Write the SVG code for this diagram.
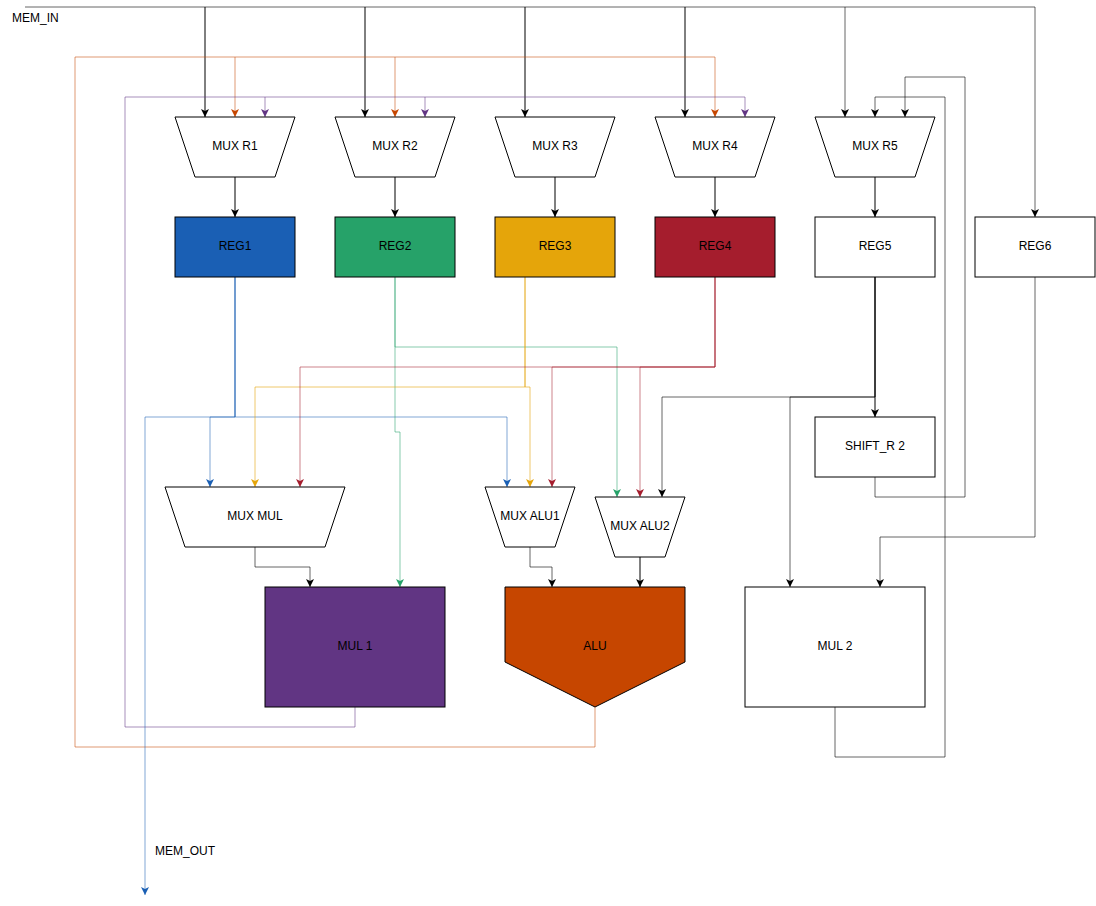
<svg xmlns="http://www.w3.org/2000/svg" width="1096" height="906" viewBox="0 0 1096 906">
<style>
text{font-family:"Liberation Sans",Arial,sans-serif;font-size:12px;fill:#000;text-anchor:middle;dominant-baseline:central}
.n{stroke:#000;stroke-width:1}
.w{fill:#fff}
.e{fill:none;stroke-width:1}
.k{stroke:#000}
.g{stroke:#000;stroke-opacity:0.6}
.bl{stroke:#1a5fb4;stroke-opacity:0.55}
.gr{stroke:#26a269;stroke-opacity:0.55}
.ye{stroke:#e5a50a;stroke-opacity:0.6}
.rd{stroke:#a51d2d;stroke-opacity:0.55}
.or{stroke:#c64600;stroke-opacity:0.55}
.pu{stroke:#613583;stroke-opacity:0.55}
</style>
<defs>
<marker id="ak" markerUnits="userSpaceOnUse" markerWidth="10" markerHeight="10" refX="8" refY="4" orient="auto" viewBox="0 0 10 8"><path d="M0,0 L8,4 L0,8 L2,4 z" fill="#000"/></marker>
<marker id="ab" markerUnits="userSpaceOnUse" markerWidth="10" markerHeight="10" refX="8" refY="4" orient="auto" viewBox="0 0 10 8"><path d="M0,0 L8,4 L0,8 L2,4 z" fill="#1a5fb4"/></marker>
<marker id="ag" markerUnits="userSpaceOnUse" markerWidth="10" markerHeight="10" refX="8" refY="4" orient="auto" viewBox="0 0 10 8"><path d="M0,0 L8,4 L0,8 L2,4 z" fill="#26a269"/></marker>
<marker id="ay" markerUnits="userSpaceOnUse" markerWidth="10" markerHeight="10" refX="8" refY="4" orient="auto" viewBox="0 0 10 8"><path d="M0,0 L8,4 L0,8 L2,4 z" fill="#e5a50a"/></marker>
<marker id="ar" markerUnits="userSpaceOnUse" markerWidth="10" markerHeight="10" refX="8" refY="4" orient="auto" viewBox="0 0 10 8"><path d="M0,0 L8,4 L0,8 L2,4 z" fill="#a51d2d"/></marker>
<marker id="ao" markerUnits="userSpaceOnUse" markerWidth="10" markerHeight="10" refX="8" refY="4" orient="auto" viewBox="0 0 10 8"><path d="M0,0 L8,4 L0,8 L2,4 z" fill="#c64600"/></marker>
<marker id="ap" markerUnits="userSpaceOnUse" markerWidth="10" markerHeight="10" refX="8" refY="4" orient="auto" viewBox="0 0 10 8"><path d="M0,0 L8,4 L0,8 L2,4 z" fill="#613583"/></marker>
</defs>

<g id="connectors">
<path class="e g" d="M25,7 H1035 V217" marker-end="url(#ak)"/>
<path class="e k" d="M205,7 V117" marker-end="url(#ak)"/>
<path class="e k" d="M365,7 V117" marker-end="url(#ak)"/>
<path class="e k" d="M525,7 V117" marker-end="url(#ak)"/>
<path class="e k" d="M685,7 V117" marker-end="url(#ak)"/>
<path class="e g" d="M845,7 V117" marker-end="url(#ak)"/>
<path class="e or" d="M595,707 V747 H75 V57 H715 V117" marker-end="url(#ao)"/>
<path class="e or" d="M235,57 V117" marker-end="url(#ao)"/>
<path class="e or" d="M395,57 V117" marker-end="url(#ao)"/>
<path class="e pu" d="M355,707 V727 H125 V97 H745 V117" marker-end="url(#ap)"/>
<path class="e pu" d="M265,97 V117" marker-end="url(#ap)"/>
<path class="e pu" d="M425,97 V117" marker-end="url(#ap)"/>
<path class="e g" d="M835,707 V757 H945 V97 H875 V117" marker-end="url(#ak)"/>
<path class="e g" d="M875,477 V497 H965 V77 H905 V117" marker-end="url(#ak)"/>
<path class="e k" d="M235,177 V217" marker-end="url(#ak)"/>
<path class="e k" d="M395,177 V217" marker-end="url(#ak)"/>
<path class="e k" d="M555,177 V217" marker-end="url(#ak)"/>
<path class="e k" d="M715,177 V217" marker-end="url(#ak)"/>
<path class="e k" d="M875,177 V217" marker-end="url(#ak)"/>
<path class="e bl" d="M235,277 V417 H210 V487" marker-end="url(#ab)"/>
<path class="e bl" d="M235,277 V417 H507 V487" marker-end="url(#ab)"/>
<path class="e bl" d="M235,277 V417 H145 V895" marker-end="url(#ab)"/>
<path class="e gr" d="M395,277 V347 H617 V497" marker-end="url(#ag)"/>
<path class="e gr" d="M395,277 V432 H400 V587" marker-end="url(#ag)"/>
<path class="e ye" d="M525,277 V387 H255 V487" marker-end="url(#ay)"/>
<path class="e ye" d="M525,277 V387 H530 V487" marker-end="url(#ay)"/>
<path class="e rd" d="M715,277 V367 H300 V487" marker-end="url(#ar)"/>
<path class="e rd" d="M715,277 V367 H552 V487" marker-end="url(#ar)"/>
<path class="e rd" d="M715,277 V367 H640 V497" marker-end="url(#ar)"/>
<path class="e k" d="M875,277 V417" marker-end="url(#ak)"/>
<path class="e g" d="M875,277 V397 H662 V497" marker-end="url(#ak)"/>
<path class="e g" d="M875,277 V397 H790 V587" marker-end="url(#ak)"/>
<path class="e g" d="M1035,277 V537 H880 V587" marker-end="url(#ak)"/>
<path class="e g" d="M255,547 V567 H310 V587" marker-end="url(#ak)"/>
<path class="e g" d="M530,547 V567 H552 V587" marker-end="url(#ak)"/>
<path class="e k" d="M640,557 V587" marker-end="url(#ak)"/>
</g>

<g id="mem_in"><text x="12" y="18" style="text-anchor:start">MEM_IN</text></g>
<g id="mem_out"><text x="155" y="851" style="text-anchor:start">MEM_OUT</text></g>

<g id="mux_r1"><path class="n w" d="M175,117 H295 L275,177 H195 Z"/><text x="235" y="146">MUX R1</text></g>
<g id="mux_r2"><path class="n w" d="M335,117 H455 L435,177 H355 Z"/><text x="395" y="146">MUX R2</text></g>
<g id="mux_r3"><path class="n w" d="M495,117 H615 L595,177 H515 Z"/><text x="555" y="146">MUX R3</text></g>
<g id="mux_r4"><path class="n w" d="M655,117 H775 L755,177 H675 Z"/><text x="715" y="146">MUX R4</text></g>
<g id="mux_r5"><path class="n w" d="M815,117 H935 L915,177 H835 Z"/><text x="875" y="146">MUX R5</text></g>

<g id="reg1"><rect class="n" x="175" y="217" width="120" height="60" fill="#1a5fb4"/><text x="235" y="246">REG1</text></g>
<g id="reg2"><rect class="n" x="335" y="217" width="120" height="60" fill="#26a269"/><text x="395" y="246">REG2</text></g>
<g id="reg3"><rect class="n" x="495" y="217" width="120" height="60" fill="#e5a50a"/><text x="555" y="246">REG3</text></g>
<g id="reg4"><rect class="n" x="655" y="217" width="120" height="60" fill="#a51d2d"/><text x="715" y="246">REG4</text></g>
<g id="reg5"><rect class="n w" x="815" y="217" width="120" height="60"/><text x="875" y="246">REG5</text></g>
<g id="reg6"><rect class="n w" x="975" y="217" width="120" height="60"/><text x="1035" y="246">REG6</text></g>

<g id="shift_r2"><rect class="n w" x="815" y="417" width="120" height="60"/><text x="875" y="446">SHIFT_R 2</text></g>

<g id="mux_mul"><path class="n w" d="M165,487 H345 L325,547 H185 Z"/><text x="255" y="516">MUX MUL</text></g>
<g id="mux_alu1"><path class="n w" d="M485,487 H575 L555,547 H505 Z"/><text x="530" y="516">MUX ALU1</text></g>
<g id="mux_alu2"><path class="n w" d="M595,497 H685 L665,557 H615 Z"/><text x="640" y="526">MUX ALU2</text></g>

<g id="mul1"><rect class="n" x="265" y="587" width="180" height="120" fill="#613583"/><text x="355" y="646">MUL 1</text></g>
<g id="alu"><path class="n" d="M505,587 H685 V662 L595,707 L505,662 Z" fill="#c64600"/><text x="595" y="646">ALU</text></g>
<g id="mul2"><rect class="n w" x="745" y="587" width="180" height="120"/><text x="835" y="646">MUL 2</text></g>
</svg>
